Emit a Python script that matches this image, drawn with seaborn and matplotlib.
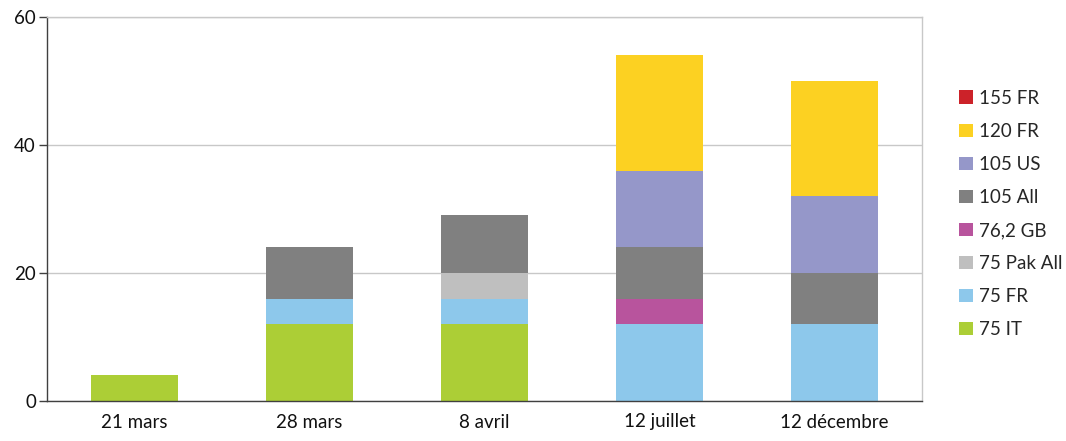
import numpy as np
import pandas as pd
import seaborn as sns
import matplotlib
matplotlib.use("Agg")
import matplotlib.pyplot as plt
from matplotlib.patches import Patch

categories = ["21 mars", "28 mars", "8 avril", "12 juillet", "12 décembre"]
series_names = ["75 IT", "75 FR", "75 Pak All", "76,2 GB", "105 All", "105 US", "120 FR", "155 FR"]
v_75_it = [4, 12, 12, 0, 0]
v_75_fr = [0, 4, 4, 12, 12]
v_75_pak_all = [0, 0, 4, 0, 0]
v_76_2_gb = [0, 0, 0, 4, 0]
v_105_all = [0, 8, 9, 8, 8]
v_105_us = [0, 0, 0, 12, 12]
v_120_fr = [0, 0, 0, 18, 18]
v_155_fr = [0, 0, 0, 0, 0]
series_values = [v_75_it, v_75_fr, v_75_pak_all, v_76_2_gb, v_105_all, v_105_us, v_120_fr, v_155_fr]
colors = ["#ACCE36", "#8DC8EB", "#BFBFBF", "#B8549D", "#808080", "#9597C9", "#FCD122", "#CC2229"]
y_ticks = [0, 20, 40, 60]

sns.set_theme(style="white")
plt.rcParams["font.family"] = ["Lato", "DejaVu Sans"]

fig = plt.figure(figsize=(10.66, 4.41), dpi=100)
ax = fig.add_axes([47/1066, 1-401/441, (922-47)/1066, (401-17)/441])

cum = np.cumsum(np.array(series_values, dtype=float), axis=0)
# draw from top series down so lower segments overlay taller cumulative bars
for i in range(len(series_names)-1, -1, -1):
    df = pd.DataFrame({"cat": categories, "val": cum[i]})
    sns.barplot(data=df, x="cat", y="val", color=colors[i], width=0.5,
                saturation=1, ax=ax, linewidth=0, zorder=2)

fs = 13.5
ax.set_ylim(0, 60)
ax.set_xlim(-0.5, len(categories)-0.5)
ax.set_yticks(y_ticks)
ax.set_yticklabels([str(t) for t in y_ticks], fontsize=fs, color="#111111")
ax.set_xticks(range(len(categories)))
ax.set_xticklabels(categories, fontsize=fs, color="#111111")
ax.set_xticks(np.arange(-0.5, len(categories), 1.0), minor=True)
ax.tick_params(axis="x", which="major", length=0, pad=9)
ax.tick_params(axis="x", which="minor", length=6, width=1, color="#404040", direction="out")
ax.tick_params(axis="y", which="major", length=6, width=1, color="#404040", direction="out", pad=2, left=True)
ax.set_xlabel("")
ax.set_ylabel("")
ax.yaxis.grid(True, color="#C8C8C8", linewidth=1, zorder=0)
ax.set_axisbelow(True)
for s in ["left", "bottom"]:
    ax.spines[s].set_color("#404040")
    ax.spines[s].set_linewidth(1)
ax.spines["top"].set_color("#C8C8C8")
ax.spines["right"].set_color("#C8C8C8")
ax.spines["top"].set_linewidth(1)
ax.spines["right"].set_linewidth(1)

handles = [Patch(facecolor=colors[i], edgecolor="none", label=series_names[i])
           for i in range(len(series_names)-1, -1, -1)]
fig.legend(handles=handles, loc="center left", bbox_to_anchor=(944/1066, 1-214/441),
           frameon=False, fontsize=fs, handlelength=0.75, handleheight=0.7,
           handletextpad=0.3, labelspacing=0.86, borderpad=0.3)

fig.savefig("out.png", dpi=100)
